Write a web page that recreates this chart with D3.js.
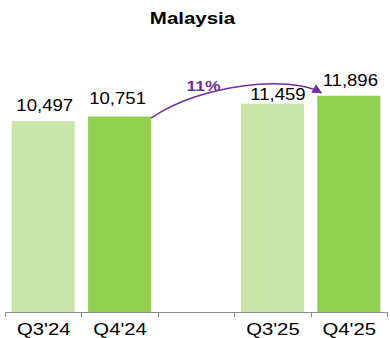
<!DOCTYPE html>
<html>
<head>
<meta charset="utf-8">
<script src="https://cdn.jsdelivr.net/npm/d3@7"></script>
<style>
  html, body { margin: 0; padding: 0; background: #fff; }
  svg { display: block; }
  text { font-family: "Liberation Sans", Arial, sans-serif; }
</style>
</head>
<body>
<svg id="chart" width="390" height="338"></svg>
<script>
// Quarterly figures; the blank slot separates the two years
const categories = ["Q3'24", "Q4'24", "", "Q3'25", "Q4'25"];
const values = [10497, 10751, null, 11459, 11896];
const barKinds = ["prior", "current", null, "prior", "current"];
const title = "Malaysia";
const growthLabel = "11%";

const baseY = 312;
const colors = { prior: "#c9e5a7", current: "#92d050" };
const purple = "#7030a0";

const svg = d3.select("#chart");

const x = d3.scaleBand()
  .domain(categories.map((c, i) => i))
  .range([5, 387])
  .paddingInner(0.175)
  .paddingOuter(0.0875);

const y = d3.scaleLinear()
  .domain([0, 13000])
  .range([baseY, baseY - 13000 * 0.01818]);

// Text drawn with a wide, horizontally stretched look
function wideText(sel, px, py, scale) {
  return sel.attr("transform", `translate(${px},${py}) scale(${scale},1)`);
}

// Title
wideText(svg.append("text"), 192.5, 24, 1.28)
  .attr("text-anchor", "middle")
  .attr("font-size", 16)
  .attr("font-weight", "bold")
  .attr("fill", "#000")
  .text(title);

const idx = d3.range(categories.length).filter(i => values[i] != null);

// Bars
svg.append("g").selectAll("rect")
  .data(idx)
  .join("rect")
  .attr("x", i => x(i))
  .attr("width", x.bandwidth())
  .attr("y", i => y(values[i]))
  .attr("height", i => y(0) - y(values[i]))
  .attr("fill", i => colors[barKinds[i]]);

// Value labels, each nudged a little off its bar
const labelNudge = {
  0: { dx: 1.5, gap: 10 },
  1: { dx: -2, gap: 13 },
  3: { dx: 5.5, gap: 4 },
  4: { dx: 1.5, gap: 9.5 }
};
const fmt = d3.format(",");
svg.append("g").selectAll("text")
  .data(idx)
  .join("text")
  .each(function (i) {
    const n = labelNudge[i];
    wideText(d3.select(this), x(i) + x.bandwidth() / 2 + n.dx, y(values[i]) - n.gap, 1.16);
  })
  .attr("text-anchor", "middle")
  .attr("font-size", 16)
  .attr("fill", "#000")
  .text(i => fmt(values[i]));

// Category axis: baseline with ticks at slot boundaries
const axis = svg.append("g");
axis.append("line")
  .attr("x1", 5).attr("x2", 387)
  .attr("y1", baseY + 0.5).attr("y2", baseY + 0.5)
  .attr("stroke", "#8c8c8c").attr("stroke-width", 1);
const bounds = d3.range(categories.length + 1).map(k => 5 + k * x.step());
axis.selectAll("line.tick")
  .data(bounds)
  .join("line")
  .attr("class", "tick")
  .attr("x1", d => Math.round(d) + 0.5).attr("x2", d => Math.round(d) + 0.5)
  .attr("y1", baseY).attr("y2", baseY + 5)
  .attr("stroke", "#8c8c8c").attr("stroke-width", 1);
axis.selectAll("text")
  .data(d3.range(categories.length).filter(i => categories[i] !== ""))
  .join("text")
  .each(function (i) {
    wideText(d3.select(this), x(i) + x.bandwidth() / 2 + 0.5, 334.5, 1.27);
  })
  .attr("text-anchor", "middle")
  .attr("font-size", 16)
  .attr("fill", "#000")
  .text(i => categories[i]);

// Growth arrow from Q4'24 to Q4'25
const defs = svg.append("defs");
defs.append("marker")
  .attr("id", "arrowhead")
  .attr("viewBox", "0 0 10 10")
  .attr("refX", 9).attr("refY", 5)
  .attr("markerWidth", 7).attr("markerHeight", 6.5)
  .attr("markerUnits", "strokeWidth")
  .attr("orient", "auto")
  .append("path")
  .attr("d", "M0,0 L10,5 L0,10 Z")
  .attr("fill", purple);

const fromI = 1, toI = 4;
const x0 = x(fromI) + x.bandwidth(), y0 = y(values[fromI]) + 1.5;
const x1 = x(toI) + 4, y1 = y(values[toI]) - 3;
svg.append("path")
  .attr("d", `M${x0},${y0} C${x0 + 49},${y0 - 34} ${x1 - 32},${y1 - 18} ${x1},${y1}`)
  .attr("fill", "none")
  .attr("stroke", purple)
  .attr("stroke-width", 1.5)
  .attr("marker-end", "url(#arrowhead)");

wideText(svg.append("text"), 203.5, 91, 1.25)
  .attr("text-anchor", "middle")
  .attr("font-size", 14)
  .attr("font-weight", "bold")
  .attr("fill", purple)
  .text(growthLabel);
</script>
</body>
</html>
